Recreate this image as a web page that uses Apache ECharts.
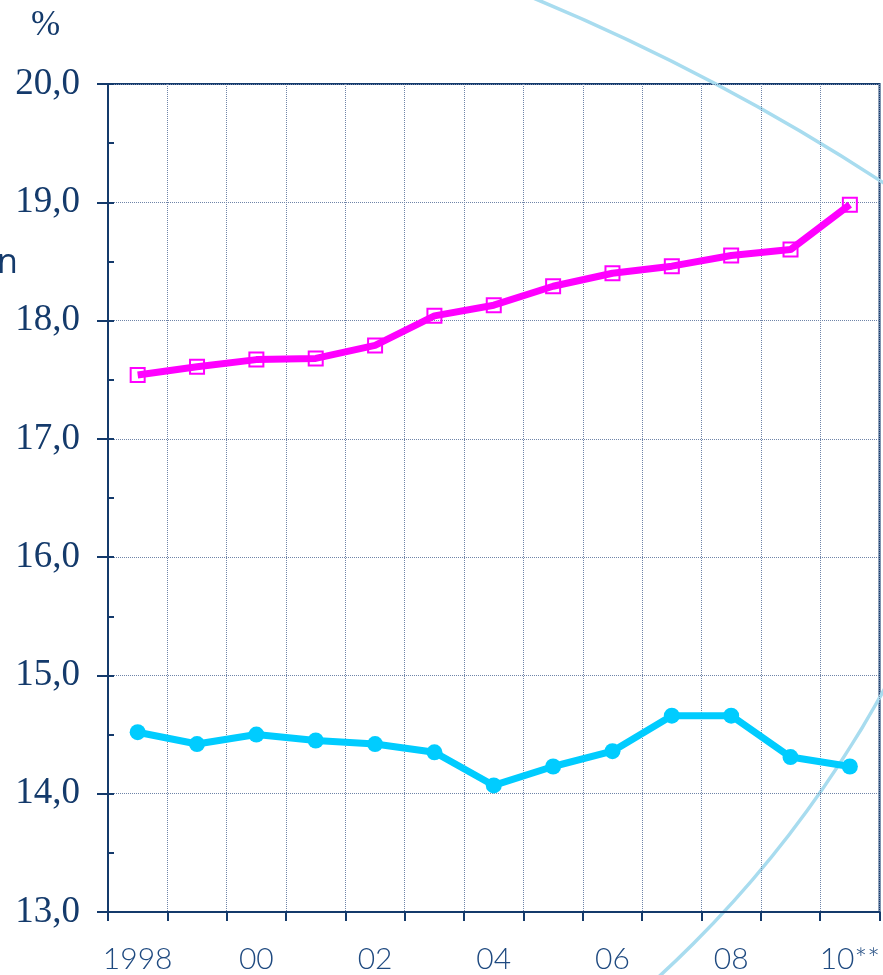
<!DOCTYPE html>
<html>
<head>
<meta charset="utf-8">
<style>html,body{margin:0;padding:0;background:#fff}#c{width:883px;height:975px}</style>
<script src="https://cdn.jsdelivr.net/npm/echarts@6/dist/echarts.min.js"></script>
</head>
<body>
<div id="c"></div>
<script>
const categories = ['1998','99','00','01','02','03','04','05','06','07','08','09','10**'];
const pinkValues = [17.54,17.61,17.67,17.68,17.79,18.04,18.13,18.29,18.40,18.46,18.55,18.60,18.98];
const cyanValues = [14.52,14.42,14.50,14.45,14.42,14.35,14.07,14.23,14.36,14.66,14.66,14.31,14.23];
const yMin = 13, yMax = 20, yStep = 1;

const navy = '#143a6b';
const gridCol = '#6f84a8';
const serif = '"Liberation Serif", "DejaVu Serif", Times, serif';
const chart = echarts.init(document.getElementById('c'));
chart.setOption({
  animation: false,
  grid: {left:108, right:3, top:84, bottom:63, show:true, borderColor:navy, borderWidth:2, backgroundColor:'transparent'},
  graphic: [
    {type:'circle', z:0, silent:true, shape:{cx:-286, cy:1975, r:2140}, style:{fill:'none', stroke:'#a8dcef', lineWidth:3.5}},
    {type:'circle', z:0, silent:true, shape:{cx:-102, cy:148, r:1125}, style:{fill:'none', stroke:'#a8dcef', lineWidth:3.5}},
    {type:'text', left:31, top:8, style:{text:'%', fontSize:35, fontFamily:serif, fill:navy}},
    {type:'text', left:-3, top:246, style:{text:'n', fontSize:34, fontFamily:'"Open Sans"', fill:navy}}
  ],
  xAxis: {
    type:'category', data:categories, boundaryGap:true,
    axisLine:{show:true, lineStyle:{color:navy, width:2}},
    axisTick:{show:true, interval:0, length:9, lineStyle:{color:navy, width:2}},
    axisLabel:{interval:1, margin:32, fontSize:30, fontFamily:'Lato', fontWeight:300, color:'#1f4a80'},
    splitLine:{show:true, interval:0, lineStyle:{color:gridCol, type:'dotted', width:1}}
  },
  yAxis: [
    {type:'value', min:yMin, max:yMax, interval:yStep,
     axisLine:{show:true, lineStyle:{color:navy, width:2}},
     axisTick:{show:true, length:11, lineStyle:{color:navy, width:2}},
     axisLabel:{margin:28, fontSize:37, fontFamily:serif, color:navy,
       formatter: v => v.toFixed(1).replace('.', ',')},
     splitLine:{show:true, lineStyle:{color:gridCol, type:'dotted', width:1}}},
    {type:'value', min:yMin, max:yMax, interval:yStep/2, position:'left',
     axisLine:{show:false}, axisLabel:{show:false}, splitLine:{show:false},
     axisTick:{show:true, inside:true, length:6, lineStyle:{color:navy, width:2}}}
  ],
  series: [
    {type:'line', data:pinkValues, yAxisIndex:0, z:3,
     symbol:'rect', symbolSize:14,
     lineStyle:{color:'#ff00ff', width:7},
     itemStyle:{color:'rgba(255,255,255,0)', borderColor:'#ff00ff', borderWidth:2}},
    {type:'line', data:cyanValues, yAxisIndex:0, z:3,
     symbol:'circle', symbolSize:16,
     lineStyle:{color:'#00ccff', width:7},
     itemStyle:{color:'#00ccff'}}
  ]
});
</script>
</body>
</html>
